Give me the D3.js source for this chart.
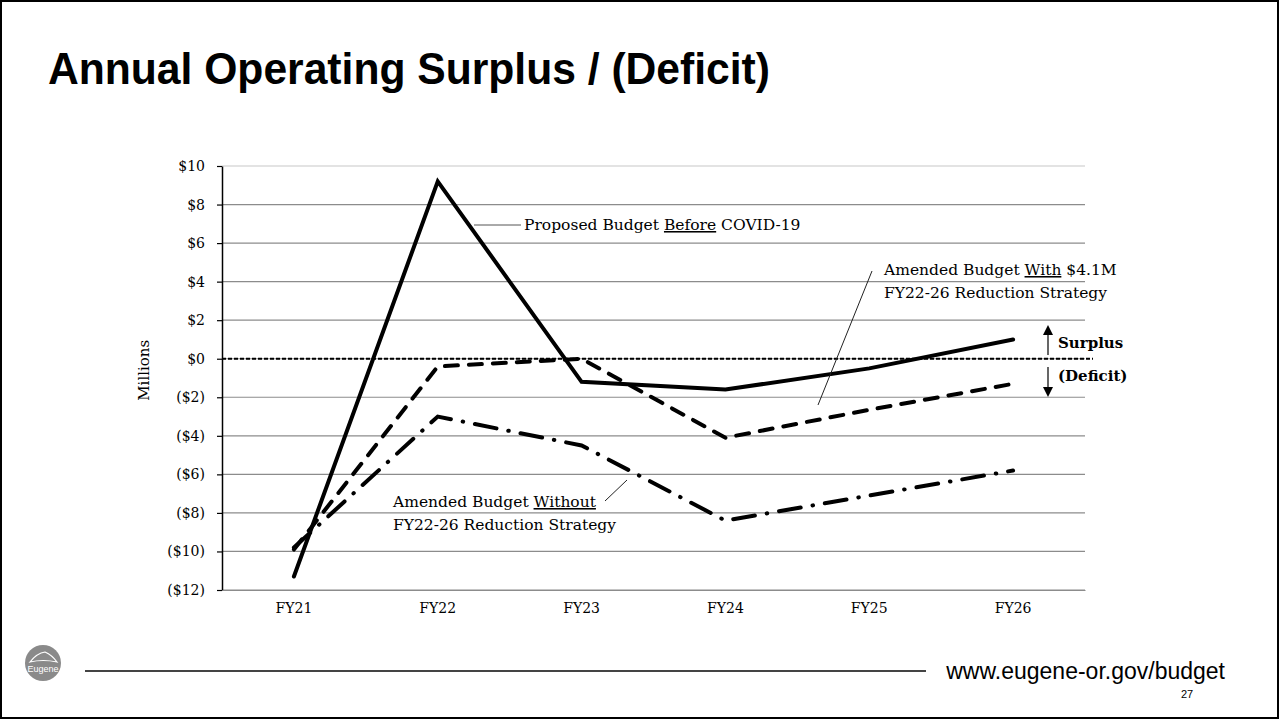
<!DOCTYPE html>
<html>
<head>
<meta charset="utf-8">
<script src="https://cdn.jsdelivr.net/npm/d3@7"></script>
<style>
  body { margin: 0; background: #fff; }
  svg { display: block; }
  .tick text { font-family: "DejaVu Serif", serif; }
</style>
</head>
<body>
<svg id="chart"></svg>
<script>
const years = ["FY21", "FY22", "FY23", "FY24", "FY25", "FY26"];
const proposedBefore = [-11.3, 9.2, -1.2, -1.6, -0.5, 1.0];
const amendedWith = [-9.9, -0.4, 0.0, -4.1, -2.65, -1.3];
const amendedWithout = [-9.8, -3.0, -4.5, -8.4, -7.1, -5.8];
const yTicks = [10, 8, 6, 4, 2, 0, -2, -4, -6, -8, -10, -12];

const W = 1279, H = 719;
const margin = {top: 166, left: 222, right: 194, bottom: 129};
const width = W - margin.left - margin.right;
const height = H - margin.top - margin.bottom;

const svg = d3.select('#chart').attr('width', W).attr('height', H);

// slide frame
svg.append('rect')
  .attr('x', 1).attr('y', 1).attr('width', W - 2).attr('height', H - 2)
  .attr('fill', '#fff').attr('stroke', '#000').attr('stroke-width', 2);

svg.append('text')
  .attr('x', 48).attr('y', 84)
  .attr('textLength', 722).attr('lengthAdjust', 'spacingAndGlyphs')
  .style('font-family', '"Liberation Sans", Arial, sans-serif')
  .style('font-weight', 'bold').style('font-size', '45px')
  .text('Annual Operating Surplus / (Deficit)');

const g = svg.append('g').attr('transform', `translate(${margin.left},${margin.top})`);

// Scales
const xscale = d3.scaleBand().domain(years).range([0, width]);
const yscale = d3.scaleLinear().domain([-12, 10]).range([height, 0]);
const xc = (d) => xscale(d) + xscale.bandwidth() / 2;

// grid lines
g.append('g').selectAll('line').data(yTicks).enter().append('line')
  .attr('x1', 0).attr('x2', width)
  .attr('y1', (d) => yscale(d)).attr('y2', (d) => yscale(d))
  .attr('stroke', (d) => d === 10 ? '#c8c8c8' : '#8c8c8c')
  .attr('stroke-width', 1.2);

// y axis
const yaxis = d3.axisLeft(yscale).tickValues(yTicks).tickSize(5).tickSizeOuter(0).tickPadding(12)
  .tickFormat((d) => d < 0 ? `($${-d})` : `$${d}`);
const g_yaxis = g.append('g').call(yaxis);
g_yaxis.select('.domain').attr('stroke', '#000').attr('stroke-width', 1.5);
g_yaxis.selectAll('.tick line').attr('stroke', '#000').attr('stroke-width', 1.2);
g_yaxis.selectAll('.tick text').style('font-size', '14px').attr('fill', '#000');

// x axis
const xaxis = d3.axisBottom(xscale).tickSize(0).tickPadding(13);
const g_xaxis = g.append('g').attr('transform', `translate(0,${height})`).call(xaxis);
g_xaxis.select('.domain').attr('stroke', '#8c8c8c').attr('stroke-width', 1.2);
g_xaxis.selectAll('.tick text').style('font-size', '14px').attr('fill', '#000');

// zero line
g.append('line')
  .attr('x1', 0).attr('x2', width + 8)
  .attr('y1', yscale(0)).attr('y2', yscale(0))
  .attr('stroke', '#000').attr('stroke-width', 2).attr('stroke-dasharray', '4,2');

svg.append('text')
  .attr('transform', `translate(149,${margin.top + yscale(-0.6)}) rotate(-90)`)
  .attr('text-anchor', 'middle')
  .style('font-family', '"DejaVu Serif", serif').style('font-size', '15px')
  .text('Millions');

// series lines
const line = d3.line().x((d, i) => xc(years[i])).y((d) => yscale(d));
const series = [
  {values: proposedBefore, dash: null, cap: 'round'},
  {values: amendedWith, dash: '13,11', cap: 'round'},
  {values: amendedWithout, dash: '22,12,0.5,12', cap: 'round'}
];
g.selectAll('path.series').data(series).enter().append('path')
  .attr('class', 'series')
  .attr('d', (d) => line(d.values))
  .attr('fill', 'none').attr('stroke', '#000').attr('stroke-width', 4)
  .attr('stroke-linejoin', 'miter').attr('stroke-linecap', (d) => d.cap)
  .attr('stroke-dasharray', (d) => d.dash);

// annotations
const serif = '"DejaVu Serif", serif';
function label(x, y, parts, size, weight) {
  const t = svg.append('text').attr('x', x).attr('y', y)
    .style('font-family', serif).style('font-size', size || '15.5px')
    .style('font-weight', weight || 'normal');
  parts.forEach((p) => {
    t.append('tspan').text(p.t).style('text-decoration', p.u ? 'underline' : null);
  });
  return t;
}

svg.append('line').attr('x1', 474).attr('y1', 225).attr('x2', 521).attr('y2', 225)
  .attr('stroke', '#555').attr('stroke-width', 1);
label(524, 230, [{t: 'Proposed Budget '}, {t: 'Before', u: true}, {t: ' COVID-19'}]);

svg.append('line').attr('x1', 872).attr('y1', 271).attr('x2', 818).attr('y2', 405)
  .attr('stroke', '#222').attr('stroke-width', 1);
label(884, 275, [{t: 'Amended Budget '}, {t: 'With', u: true}, {t: ' $4.1M'}]);
label(884, 298, [{t: 'FY22-26 Reduction Strategy'}]);

svg.append('line').attr('x1', 605).attr('y1', 501).attr('x2', 627).attr('y2', 480)
  .attr('stroke', '#222').attr('stroke-width', 1);
label(393, 507, [{t: 'Amended Budget '}, {t: 'Without', u: true}]);
label(393, 530, [{t: 'FY22-26 Reduction Strategy'}]);

// surplus / deficit arrows
const defs = svg.append('defs');
defs.append('marker').attr('id', 'arrow').attr('viewBox', '0 0 10 10')
  .attr('refX', 5).attr('refY', 5).attr('markerWidth', 10).attr('markerHeight', 10)
  .attr('markerUnits', 'userSpaceOnUse').attr('orient', 'auto')
  .append('path').attr('d', 'M0,0L10,5L0,10z').attr('fill', '#000');
const ax = 1048;
svg.append('line').attr('x1', ax).attr('y1', 355).attr('x2', ax).attr('y2', 330)
  .attr('stroke', '#000').attr('stroke-width', 1.2).attr('marker-end', 'url(#arrow)');
svg.append('line').attr('x1', ax).attr('y1', 367).attr('x2', ax).attr('y2', 392)
  .attr('stroke', '#000').attr('stroke-width', 1.2).attr('marker-end', 'url(#arrow)');
label(1058, 348, [{t: 'Surplus'}], '15px', 'bold');
label(1058, 381, [{t: '(Deficit)'}], '15px', 'bold');

// footer
svg.append('line').attr('x1', 85).attr('y1', 671).attr('x2', 926).attr('y2', 671)
  .attr('stroke', '#444').attr('stroke-width', 2);
svg.append('text').attr('x', 1225).attr('y', 679).attr('text-anchor', 'end')
  .style('font-family', '"Liberation Sans", Arial, sans-serif').style('font-size', '23px')
  .text('www.eugene-or.gov/budget');
svg.append('text').attr('x', 1187).attr('y', 698).attr('text-anchor', 'middle')
  .style('font-family', '"Liberation Sans", Arial, sans-serif').style('font-size', '11px')
  .text('27');

// logo
const logo = svg.append('g').attr('transform', 'translate(43,663)');
logo.append('circle').attr('r', 18).attr('fill', '#8a8a8a');
logo.append('path').attr('d', 'M-13,-1 Q-6,-10 2,-11 Q9,-8 14,-1 Q0,-4 -13,-1z')
  .attr('fill', 'none').attr('stroke', '#fff').attr('stroke-width', 1.2);
logo.append('text').attr('y', 9).attr('text-anchor', 'middle')
  .style('font-family', '"Liberation Sans", Arial, sans-serif').style('font-size', '9px')
  .attr('fill', '#fff').text('Eugene');
</script>
</body>
</html>
